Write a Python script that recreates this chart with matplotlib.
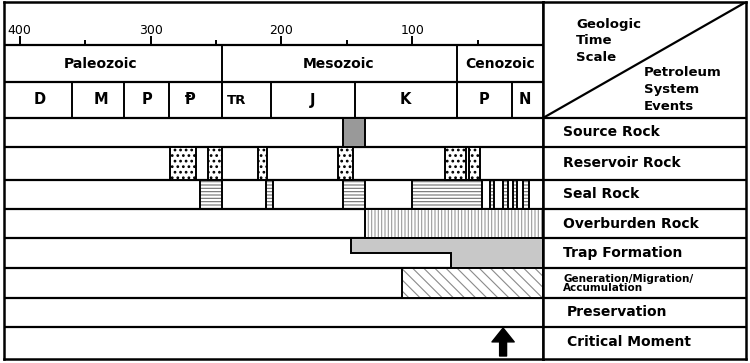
import numpy as np
import matplotlib
matplotlib.use('Agg')
import matplotlib.pyplot as plt

# geologic time scale (ages in Ma)
tick_major = [400, 300, 200, 100]
tick_minor = [350, 250, 150, 50]
eras = ['Paleozoic', 'Mesozoic', 'Cenozoic']
era_bounds = [412, 245, 66, 0]
era_label_at = [338, 156, 33]
periods = ['D', 'M', 'P', '\u2c63', 'TR', 'J', 'K', 'P', 'N']
period_bounds = [412, 360, 320, 286, 245, 208, 144, 66, 24, 0]
period_label_at = [385, 338, 303, 270, 234, 176, 105, 45, 14]

# petroleum system events: (oldest, youngest) in Ma
events = ['Source Rock', 'Reservoir Rock', 'Seal Rock', 'Overburden Rock',
          'Trap Formation', 'Generation/Migration/\nAccumulation',
          'Preservation', 'Critical Moment']
source_rock = [(153, 136)]
reservoir_rock = [(285, 265), (256, 245), (218, 211), (157, 145), (75, 59), (56.5, 48)]
seal_rock = [(262, 245), (211.5, 206), (153, 136), (100, 47),
             (40.5, 37.5), (30.5, 27), (23, 20), (15.5, 11)]
overburden_rock = [(136, 0)]
trap_partial = (147, 70)
trap_full = (70, 0)
generation = [(107.5, 0)]
critical_moment = 30.5

# layout (pixels from top)
W, H = 750, 363
hdr = [2, 45, 82, 118]
rows = [118, 147, 179.5, 209, 238.3, 268.3, 298.3, 326.5, 358.5]
x_left, x_mid, x_right = 4, 543, 746
y_top, y_bot = 2, 359

fig = plt.figure(figsize=(W / 100, H / 100), dpi=100)
ax = fig.add_axes([x_left / W, 1 - y_bot / H, (x_mid - x_left) / W, (y_bot - y_top) / H])
ax.set_xlim(era_bounds[0], 0)
ax.set_ylim(y_bot, y_top)
lx = fig.add_axes([x_mid / W, 1 - y_bot / H, (x_right - x_mid) / W, (y_bot - y_top) / H])
lx.set_xlim(0, x_right - x_mid)
lx.set_ylim(y_bot, y_top)
for a in (ax, lx):
    a.set_xticks([])
    a.set_yticks([])
    for s in a.spines.values():
        s.set_linewidth(1.8)

lw_row = 1.6
bold = dict(fontweight='bold', color='black', family=['DejaVu Sans'])

# time ticks
ax.vlines(tick_major, hdr[1] - 9, hdr[1], color='black', lw=1.4)
ax.vlines(tick_minor, hdr[1] - 5, hdr[1], color='black', lw=1.4)
for t in tick_major:
    ax.text(t, 30, str(t), ha='center', va='center', fontsize=9)

# header rows
ax.axhline(hdr[1], color='black', lw=lw_row)
ax.axhline(hdr[2], color='black', lw=lw_row)
ax.vlines(era_bounds[1:-1], hdr[1], hdr[3], color='black', lw=1.4)
ax.vlines(period_bounds[1:-1], hdr[2], hdr[3], color='black', lw=1.4)
for name, x in zip(eras, era_label_at):
    ax.text(x, (hdr[1] + hdr[2]) / 2, name, ha='center', va='center', fontsize=10, **bold)
for name, x in zip(periods, period_label_at):
    yc = (hdr[2] + hdr[3]) / 2
    fs = 9.5 if name == 'TR' else 10.5
    ax.text(x, yc, name, ha='center', va='center', fontsize=fs, **bold)

# event rows
for y in rows[:-1]:
    ax.axhline(y, color='black', lw=lw_row)
    lx.axhline(y, color='black', lw=lw_row)


def row_span(i):
    return rows[i], rows[i + 1]


def draw_blocks(i, spans, hatch=None, face='white', hcolor='black', hlw=1.0):
    top, bot = row_span(i)
    left = [young for old, young in spans]
    width = [old - young for old, young in spans]
    yc = (top + bot) / 2
    with plt.rc_context({'hatch.linewidth': hlw}):
        ax.barh([yc] * len(spans), width, height=bot - top, left=left,
                color=face, edgecolor=hcolor if hatch else 'none', linewidth=0,
                hatch=hatch, zorder=2)
    ax.barh([yc] * len(spans), width, height=bot - top, left=left,
            fill=False, edgecolor='black', linewidth=1.4, zorder=3)


draw_blocks(0, source_rock, face='#999999')
draw_blocks(1, reservoir_rock, hatch='...', hcolor='black', hlw=1.2)
draw_blocks(2, seal_rock, hatch='-----', hcolor='#707070', hlw=0.8)
draw_blocks(3, overburden_rock, hatch='|||||', hcolor='#9a9a9a', hlw=0.8)

# trap formation: stepped shape
top, bot = row_span(4)
mid = (top + bot) / 2
tx = [trap_partial[0], trap_full[1], trap_full[1], trap_full[0], trap_full[0], trap_partial[0]]
ty = [top, top, bot, bot, mid, mid]
ax.fill(tx, ty, facecolor='#c8c8c8', edgecolor='black', linewidth=1.4, zorder=2)

draw_blocks(5, generation, hatch='\\\\\\', hcolor='#8a8a8a', hlw=0.8)

# critical moment arrow
top, bot = row_span(7)
ax.annotate('', xy=(critical_moment, top + 1.5), xytext=(critical_moment, bot - 2.5),
            arrowprops=dict(arrowstyle='simple,head_width=1.6,head_length=1.0,tail_width=0.5',
                            fc='black', ec='black', shrinkA=0, shrinkB=0, mutation_scale=10),
            zorder=4)

# label panel
lx.plot([0, x_right - x_mid], [hdr[3], y_top], color='black', lw=1.6)
lx.text(33, 41, 'Geologic\nTime\nScale', ha='left', va='center', fontsize=9.5,
        linespacing=1.35, **bold)
lx.text(101, 89.5, 'Petroleum\nSystem\nEvents', ha='left', va='center', fontsize=9.5,
        linespacing=1.35, **bold)
for i, name in enumerate(events):
    top, bot = row_span(i)
    if '\n' in name:
        lx.text(20, (top + bot) / 2, name, ha='left', va='center', fontsize=7.5,
                linespacing=0.85, **bold)
    else:
        x0 = 24 if i >= 6 else 20
        lx.text(x0, (top + bot) / 2, name, ha='left', va='center', fontsize=10, **bold)

fig.savefig('out.png', dpi=100)
